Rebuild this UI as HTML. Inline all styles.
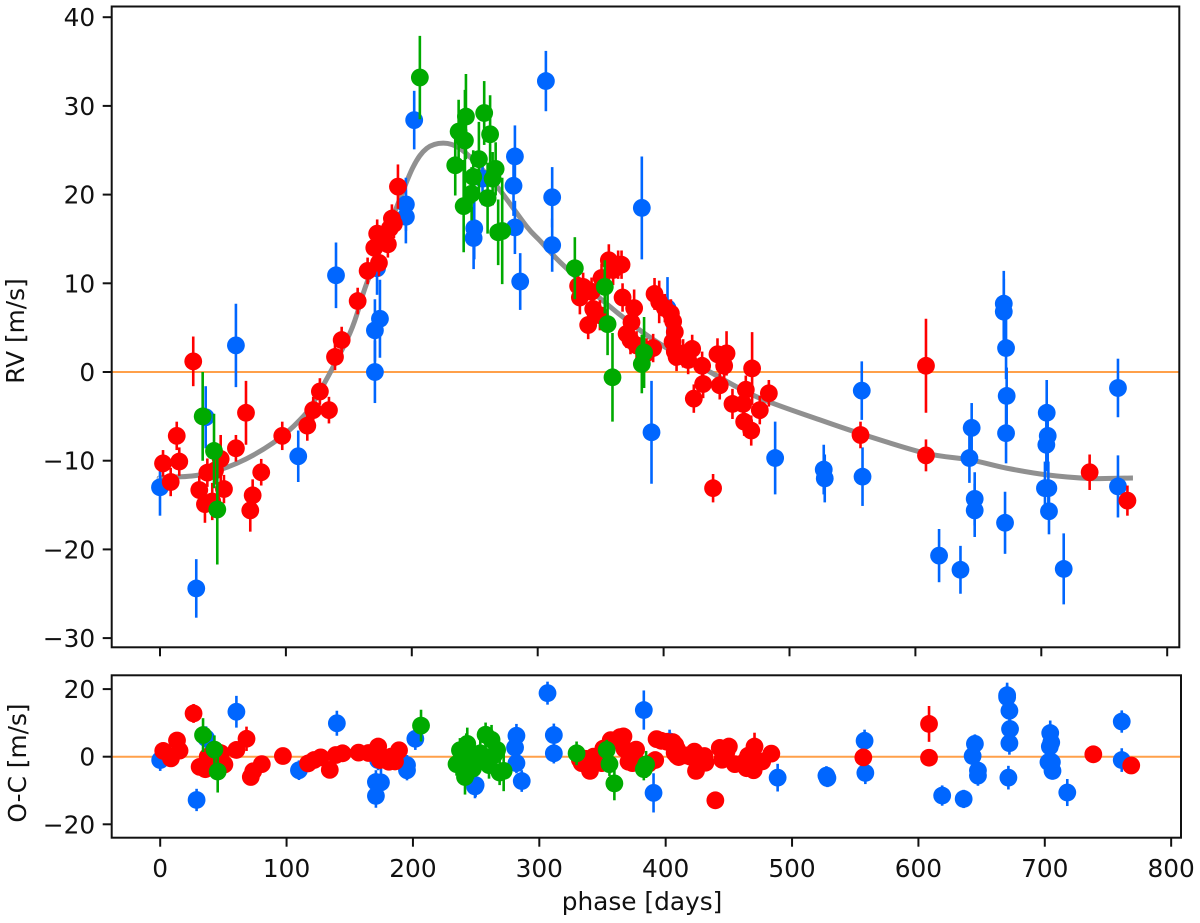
<!DOCTYPE html>
<html lang="en">
<head>
<meta charset="utf-8">
<title>RV phase curve</title>
<style>
html,body{margin:0;padding:0;background:#fff;width:1200px;height:923px;overflow:hidden}
svg{display:block}
text{font-family:"DejaVu Sans","Liberation Sans",sans-serif;font-size:24.8px;fill:#111}
</style>
</head>
<body>
<svg id="chart" xmlns="http://www.w3.org/2000/svg" width="1200" height="923" viewBox="0 0 1200 923"></svg>
<script>
const xTickLabels = [0, 100, 200, 300, 400, 500, 600, 700, 800];
const rvTickLabels = [40, 30, 20, 10, 0, -10, -20, -30];
const ocTickLabels = [20, 0, -20];

const modelPhase = [0, 2.4, 31.8, 60.9, 89.8, 111.2, 124.5, 150.9, 164.2, 188, 201, 211.8, 225, 238.3, 254.2, 270, 291.3, 301.8, 317.7, 349.5, 381.3, 402.5, 436.9, 474, 524.2, 564, 609.2, 643.4, 672.8, 704.5, 738.7, 772.8];
const modelRv = [-12, -11.9, -11.6, -10.3, -8, -5.4, -2.8, 4.4, 10, 18.6, 23.1, 25.2, 25.8, 25.2, 23.1, 20.5, 16.4, 14.8, 12.4, 8.3, 4.7, 2.7, 0, -2.8, -5.4, -7.3, -9.2, -9.9, -10.85, -11.6, -12, -11.95];

const bluePhase = [0, 28.8, 36.3, 60.3, 109.8, 139.8, 170.7, 170.7, 174.7, 172.4, 195.3, 195.3, 201.9, 256.2, 249.6, 249.1, 281.9, 280.8, 281.9, 286.1, 306.5, 311.5, 311.5, 382.7, 390.4, 403.1, 488.6, 527.2, 528, 557.4, 558, 618.8, 635.8, 642.9, 644.7, 647.1, 647.1, 670.2, 670.2, 672, 672.5, 672, 671.2, 704.3, 705.1, 704, 702.9, 705.6, 706.1, 717.8, 760.9, 760.9];
const blueRv = [-13, -24.4, -5.1, 3, -9.5, 10.9, 0, 4.7, 6, 11.7, 18.9, 17.5, 28.4, 21.8, 16.2, 15.1, 24.3, 21, 16.3, 10.2, 32.8, 19.7, 14.3, 18.5, -6.8, 7.2, -9.7, -11, -12, -2.1, -11.8, -20.7, -22.3, -9.7, -6.3, -14.3, -15.6, 7.7, 6.8, 2.7, -2.7, -6.9, -17, -4.6, -7.2, -8.2, -13.1, -13.1, -15.7, -22.2, -1.8, -12.9];
const blueErr = [3.2, 3.3, 3.5, 4.7, 2.9, 3.7, 3.5, 3.5, 4.4, 3, 3, 3, 3.3, 3, 3.5, 3.5, 3.5, 3.4, 3, 3.2, 3.4, 3.4, 3, 5.8, 5.8, 3.5, 4.1, 2.8, 2.7, 3.3, 3.3, 3, 2.7, 2.8, 2.8, 3, 3, 3.7, 3.7, 3.5, 3.2, 3.4, 3.5, 3.7, 3, 3, 3, 3, 2.6, 4, 3.3, 3.5];
const blueOc = [-1, -12.8, 5.5, 13.3, -4, 9.9, -11.6, -7.5, -7.6, -1, -2.5, -4, 5.3, -1, -8.4, -8.8, 6.2, 2.7, -1.9, -7.2, 18.8, 6.4, 1, 13.8, -10.7, 4.5, -6.2, -5.6, -6.3, 4.7, -4.8, -11.5, -12.5, 0.2, 3.8, -4.1, -5.6, 18.2, 17.6, 13.6, 8.2, 4, -6.2, 7, 4.2, 3, -1.6, -1.6, -4.2, -10.6, 10.4, -1];

const redPhase = [26.4, 68.3, 13.3, 60.3, 97.1, 2.4, 15.3, 8.5, 48.2, 37.6, 43.7, 31.2, 50.8, 35.7, 41.5, 80.4, 73.6, 71.7, 117, 121.7, 127, 134.2, 139, 144.3, 157, 164.9, 173.9, 170.2, 181, 172.5, 182.6, 185.8, 184.2, 189, 356.5, 363.9, 366.6, 359.9, 350.7, 332.1, 336.1, 333.5, 342.8, 344.1, 349.4, 340.1, 367.4, 376.6, 374.5, 370.6, 373.7, 378.5, 391.7, 386.4, 392.8, 396.5, 401, 405.8, 407.6, 408.9, 407.1, 408.9, 410.3, 422.7, 415.5, 419.5, 430.6, 431.4, 424, 444.6, 442.8, 450, 448.1, 470.3, 465.3, 454.7, 463.2, 476.4, 483.6, 464, 469.6, 439.3, 556.4, 608.4, 608.4, 738.4, 768.4];
const redRv = [1.2, -4.6, -7.2, -8.6, -7.2, -10.3, -10.1, -12.4, -9.8, -11.35, -11.1, -13.3, -13.2, -14.9, -14.6, -11.3, -13.9, -15.6, -6.05, -4.3, -2.2, -4.3, 1.7, 3.6, 8, 11.4, 12.3, 14, 14.4, 15.6, 16.2, 16.7, 17.3, 20.9, 12.6, 12.1, 12.1, 11.5, 10.6, 9.7, 9.6, 8.4, 9.05, 7.1, 6.4, 5.3, 8.4, 7.2, 5.6, 4.3, 3.6, 3, 2.7, 2.1, 8.8, 7.9, 7.2, 6.6, 5.7, 4.5, 3.4, 2.3, 1.7, 2.6, 2.1, 1.35, 0.7, -1.35, -3, -1.5, 2, 2.1, 0.7, 0.4, -2, -3.6, -3.6, -4.3, -2.4, -5.6, -6.6, -13.1, -7.1, 0.7, -9.4, -11.3, -14.5];
const redErr = [2.8, 3.6, 1.6, 1.5, 1.6, 1.5, 1.6, 1.6, 2.7, 1.6, 1.6, 1.6, 1.6, 2.1, 2.1, 1.5, 1.8, 2.4, 1.7, 1.5, 1.5, 1.5, 1.5, 1.5, 1.5, 1.5, 1.5, 1.6, 1.5, 1.6, 1.6, 1.6, 1.6, 2.5, 1.8, 1.6, 1.6, 1.7, 1.6, 1.6, 1.6, 1.9, 1.6, 1.6, 1.7, 1.6, 1.6, 2.1, 1.6, 1.6, 1.6, 1.6, 1.6, 1.7, 1.8, 2.4, 1.6, 1.6, 1.6, 1.6, 1.6, 1.6, 1.6, 1.6, 1.6, 1.6, 1.6, 1.6, 1.6, 1.6, 1.8, 2.5, 1.6, 4.1, 1.6, 1.7, 1.6, 1.6, 1.5, 1.6, 1.7, 1.6, 1.5, 5.3, 1.8, 2, 1.7];
const redOc = [12.8, 5.3, 4.8, 2, 0.2, 1.7, 1.8, -0.5, 1, 0, 0, -3, -2.3, -3.7, -3.2, -2.2, -4.3, -6, -2, -1, -0.2, -3.9, 0.5, 1, 1.2, 1.1, -1, 1.6, -1.5, 3, 0, -1.4, 0, 1.9, 4.9, 5.8, 6, 4.8, 2.4, -0.9, -0.6, -1.9, 0, -1.7, -1.9, -4.2, 2.3, 2.1, 0.3, -1.5, -1.9, -1.9, -1, -2.1, 5.2, 4.7, 4.4, 4.3, 3.5, 2.3, 1.1, 0.3, -0.1, 1.5, 0.4, 0, 0.2, -1.8, -4.2, -0.9, 2.6, 3, 1.4, 3, 0.3, -2.2, -1.2, -1.4, 0.9, -3.4, -4, -12.9, -0.2, 9.7, -0.3, 0.7, -2.6];

const greenPhase = [206.4, 237.2, 243, 242.2, 257.5, 262.2, 234.5, 253.3, 266.6, 248.8, 264.2, 247.5, 260.2, 241.2, 268.6, 271.8, 329.5, 353.3, 355.5, 359.4, 384.5, 382.7, 33.9, 42.9, 45.5];
const greenRv = [33.2, 27.1, 28.8, 26.1, 29.2, 26.8, 23.3, 24, 22.9, 22, 21.8, 20.1, 19.6, 18.7, 15.75, 15.9, 11.7, 9.6, 5.4, -0.6, 2.2, 0.9, -5, -8.9, -15.5];
const greenErr = [4.7, 3.6, 4.8, 5.7, 3.6, 4.4, 3.4, 4.2, 3, 3, 3, 3, 4, 5.2, 3.7, 6, 3.5, 3, 3.5, 5, 4, 3.3, 5, 4.2, 6.2];
const greenOc = [9.2, 1.9, 3.8, 1.2, 6.5, 5, -2.2, 1, 2, -1.7, 0.5, -3.5, -2.5, -6, -4.7, -4.2, 1, 2, -2.2, -7.9, -2.3, -3.7, 6.4, 2.1, -4.4];

const NS = 'http://www.w3.org/2000/svg';
const svg = document.getElementById('chart');

// axis functions
const xTop = v => 160 + 1.259 * v;
const yTop = v => 372 - 8.87 * v;
const xBot = v => 160.2 + 1.2637 * v;
const yBot = v => 756.7 - 3.38 * v;

function make(tag, attrs, parent) {
  const el = document.createElementNS(NS, tag);
  for (const k in attrs) el.setAttribute(k, attrs[k]);
  (parent || svg).appendChild(el);
  return el;
}
function fmt(v) { return v < 0 ? '\u2212' + Math.abs(v) : String(v); }

function drawPanel(name, left, right, top, bottom, xf, yf, yTicks, showXLabels) {
  const g = make('g', {});
  
  
  const bg = make('rect', {x: left, y: top, width: right - left, height: bottom - top, fill: '#fff'}, g);
  
  
  const zero = make('line', {x1: left, x2: right, y1: yf(0), y2: yf(0), stroke: '#ffa04a', 'stroke-width': 2}, g);
  
  
  xTickLabels.forEach(t => {
    const tick = make('line', {x1: xf(t), x2: xf(t), y1: bottom, y2: bottom + 9, stroke: '#111', 'stroke-width': 2}, g);
    
    
    if (showXLabels) {
      const lab = make('text', {x: xf(t), y: bottom + 39.5, 'text-anchor': 'middle'}, g);
      
      
      lab.textContent = fmt(t);
    }
  });
  yTicks.forEach(t => {
    const tick = make('line', {x1: left - 9, x2: left, y1: yf(t), y2: yf(t), stroke: '#111', 'stroke-width': 2}, g);
    
    
    const lab = make('text', {x: left - 16.5, y: yf(t) + 9, 'text-anchor': 'end'}, g);
    
    
    lab.textContent = fmt(t);
  });
  return g;
}
function drawFrame(name, left, right, top, bottom) {
  const frame = make('rect', {x: left, y: top, width: right - left, height: bottom - top, fill: 'none', stroke: '#111', 'stroke-width': 2});
  
  
}
function drawSeries(name, color, phases, values, errs, xf, yf) {
  const g = make('g', {});
  
  
  phases.forEach((p, i) => {
    const bar = make('line', {x1: xf(p), x2: xf(p), y1: yf(values[i] - errs[i]), y2: yf(values[i] + errs[i]), stroke: color, 'stroke-width': 2.6}, g);
    
    
  });
  phases.forEach((p, i) => {
    const pt = make('circle', {cx: xf(p), cy: yf(values[i]), r: 8.9, fill: color}, g);
    
    
  });
}

// RV panel
drawPanel('rv', 111.7, 1179.3, 6.5, 647.3, xTop, yTop, rvTickLabels, false);
const model = make('path', {
  d: (function () {
    const pts = modelPhase.map((p, i) => [xTop(p), yTop(modelRv[i])]);
    let d = 'M' + pts[0][0] + ' ' + pts[0][1];
    for (let i = 0; i < pts.length - 1; i++) {
      const a = pts[Math.max(i - 1, 0)], b = pts[i], c = pts[i + 1], e = pts[Math.min(i + 2, pts.length - 1)];
      d += ' C' + (b[0] + (c[0] - a[0]) / 6) + ' ' + (b[1] + (c[1] - a[1]) / 6) + ' ' +
        (c[0] - (e[0] - b[0]) / 6) + ' ' + (c[1] - (e[1] - b[1]) / 6) + ' ' + c[0] + ' ' + c[1];
    }
    return d;
  })(),
  fill: 'none', stroke: '#909090', 'stroke-width': 5
});


drawSeries('rv-blue-series', '#0066ff', bluePhase, blueRv, blueErr, xTop, yTop);
drawSeries('rv-red-series', '#ff0000', redPhase, redRv, redErr, xTop, yTop);
drawSeries('rv-green-series', '#00aa00', greenPhase, greenRv, greenErr, xTop, yTop);
drawFrame('rv', 111.7, 1179.3, 6.5, 647.3);

// O-C panel
drawPanel('oc', 111.7, 1181, 675.3, 837.7, xBot, yBot, ocTickLabels, true);
drawSeries('oc-blue-series', '#0066ff', bluePhase, blueOc, blueErr, xBot, yBot);
drawSeries('oc-red-series', '#ff0000', redPhase, redOc, redErr, xBot, yBot);
drawSeries('oc-green-series', '#00aa00', greenPhase, greenOc, greenErr, xBot, yBot);
drawFrame('oc', 111.7, 1181, 675.3, 837.7);

// Axis titles
const rvTitle = make('text', {x: 0, y: 0, 'text-anchor': 'middle', transform: 'translate(24 331) rotate(-90)'});


rvTitle.textContent = 'RV [m/s]';
const ocTitle = make('text', {x: 0, y: 0, 'text-anchor': 'middle', transform: 'translate(26 763) rotate(-90)'});


ocTitle.textContent = 'O-C [m/s]';
const xTitle = make('text', {x: 642, y: 910, 'text-anchor': 'middle'});


xTitle.textContent = 'phase [days]';
</script>
</body>
</html>
